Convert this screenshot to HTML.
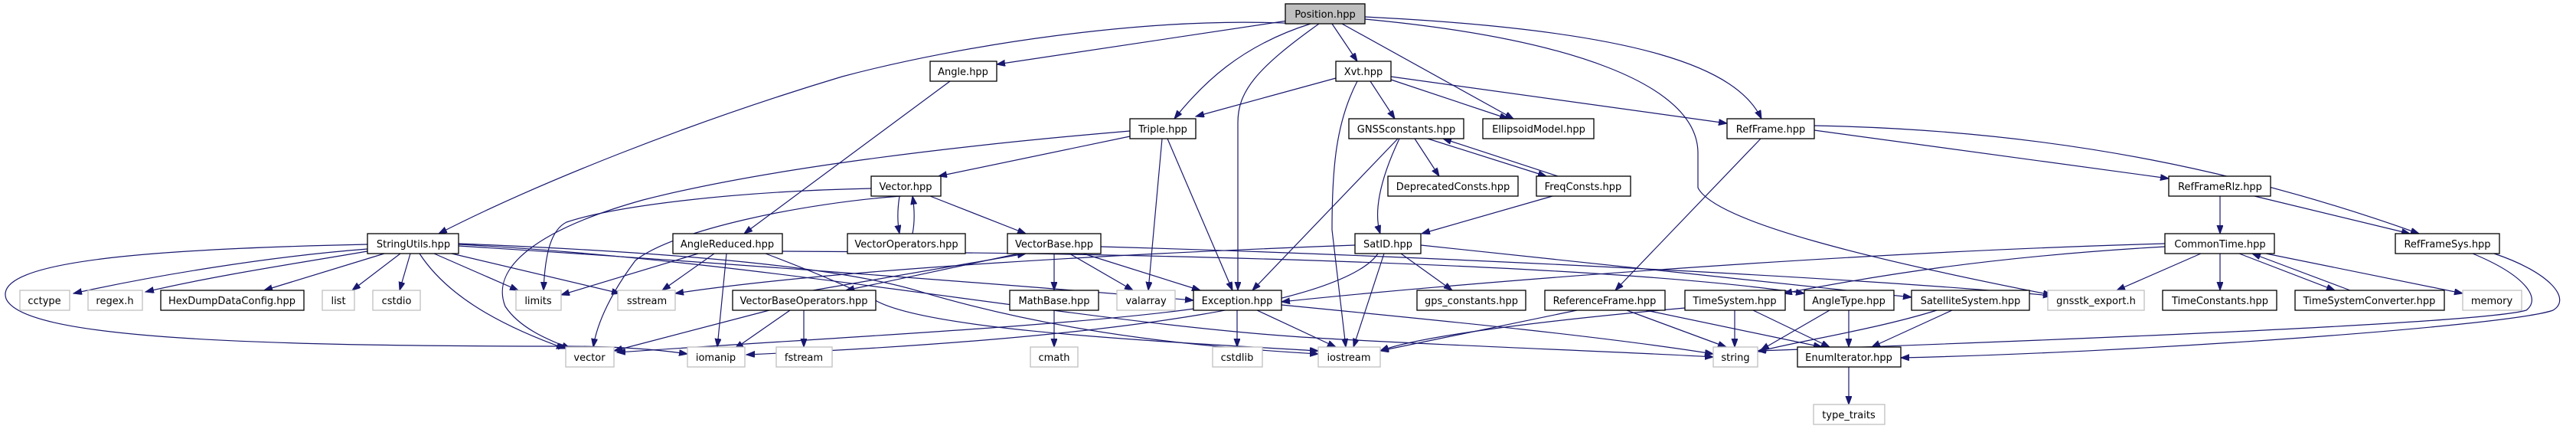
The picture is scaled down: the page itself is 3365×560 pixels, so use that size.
<!DOCTYPE html>
<html><head><meta charset="utf-8"><style>
html,body{margin:0;padding:0;background:#fff;}
svg{display:block;}
text{font-family:"DejaVu Sans","Liberation Sans",sans-serif;font-size:13px;fill:#000;text-anchor:middle;}
.e{fill:none;stroke:#191970;stroke-width:1.2;marker-end:url(#a);}
.b{fill:#fff;stroke:#000;stroke-width:1.3;}
.g{fill:#fff;stroke:#bfbfbf;stroke-width:1.3;}
.p{fill:#bfbfbf;stroke:#000;stroke-width:1.3;}
</style></head><body>
<svg width="3365" height="560" viewBox="0 0 3365 560" xmlns="http://www.w3.org/2000/svg">
<defs><marker id="a" markerUnits="userSpaceOnUse" markerWidth="12" markerHeight="9" refX="11" refY="4" orient="auto"><path d="M0,0 L11,4 L0,8 z" fill="#191970" stroke="#191970"/></marker></defs>
<g>
<path class="e" d="M1696,31 C1500,20 1250,60 1100,100 C900,160 700,240 573,305"/>
<path class="e" d="M1682,27 L1302,84"/>
<path class="e" d="M1712,31 C1620,60 1570,110 1534,155"/>
<path class="e" d="M1723,31 C1640,90 1617,120 1617,160 L1617,379"/>
<path class="e" d="M1740,31 L1773,80"/>
<path class="e" d="M1753,31 L1977,155"/>
<path class="e" d="M1783,22 C2150,40 2270,90 2301,155"/>
<path class="e" d="M1783,25 C2050,50 2218,110 2218,200 L2218,245 C2240,290 2450,340 2680,385"/>
<path class="e" d="M1745,102 L1562,152"/>
<path class="e" d="M1790,106 L1822,155"/>
<path class="e" d="M1817,104 L1970,155"/>
<path class="e" d="M1817,100 L2256,161"/>
<path class="e" d="M1773,106 C1745,160 1740,220 1740,300 L1758,453"/>
<path class="e" d="M1241,106 L972,305"/>
<path class="e" d="M1476,178 L1226,230"/>
<path class="e" d="M1518,181 L1500,379"/>
<path class="e" d="M1525,181 L1610,379"/>
<path class="e" d="M1476,171 C1250,190 1000,220 840,261 C700,300 640,350 660,400 C680,430 720,445 745,455"/>
<path class="e" d="M1175,256 C1172,275 1172,290 1175,305"/>
<path class="e" d="M1192,305 C1195,290 1195,275 1192,256"/>
<path class="e" d="M1215,256 L1340,305"/>
<path class="e" d="M1138,246 C950,250 800,270 740,290 C720,300 712,330 710,379"/>
<path class="e" d="M1177,256 C1050,265 880,300 830,340 C800,380 780,420 775,453"/>
<path class="e" d="M1377,331 L1377,379"/>
<path class="e" d="M1397,331 L1480,379"/>
<path class="e" d="M1415,331 L1568,379"/>
<path class="e" d="M1331,331 L1105,379"/>
<path class="e" d="M1062,379 L1340,331"/>
<path class="e" d="M1438,322 C1800,332 2400,360 2680,386"/>
<path class="e" d="M1005,405 L802,458"/>
<path class="e" d="M1032,405 L960,455"/>
<path class="e" d="M1050,405 L1050,453"/>
<path class="e" d="M1377,405 L1377,453"/>
<path class="e" d="M1616,405 L1616,453"/>
<path class="e" d="M1642,405 L1745,453"/>
<path class="e" d="M1674,398 C1900,420 2100,440 2238,462"/>
<path class="e" d="M1560,403 C1400,425 1100,440 806,460"/>
<path class="e" d="M1848,181 L1880,230"/>
<path class="e" d="M1865,181 L2020,230"/>
<path class="e" d="M2035,230 L1885,181"/>
<path class="e" d="M1828,181 C1800,240 1795,280 1803,305"/>
<path class="e" d="M1826,181 L1636,379"/>
<path class="e" d="M2028,256 L1857,305"/>
<path class="e" d="M1830,331 L1897,379"/>
<path class="e" d="M1808,331 L1768,453"/>
<path class="e" d="M1800,331 C1760,390 1500,440 975,463"/>
<path class="e" d="M1770,320 C1500,330 1100,350 882,383"/>
<path class="e" d="M1856,320 L2497,388"/>
<path class="e" d="M2300,181 L2110,379"/>
<path class="e" d="M2370,170 L2833,233"/>
<path class="e" d="M2370,164 C2700,170 2950,230 3160,305"/>
<path class="e" d="M2900,256 L2900,305"/>
<path class="e" d="M2945,256 L3148,305"/>
<path class="e" d="M3230,331 C3300,360 3320,390 3300,405 C3250,420 2800,440 2296,458"/>
<path class="e" d="M3258,331 C3330,355 3360,390 3335,405 C3280,425 2800,460 2483,467"/>
<path class="e" d="M2828,318 C2400,330 1900,370 1674,394"/>
<path class="e" d="M2828,322 C2600,335 2450,360 2330,383"/>
<path class="e" d="M2875,331 L2765,379"/>
<path class="e" d="M2900,331 L2900,379"/>
<path class="e" d="M2925,331 L3050,379"/>
<path class="e" d="M3070,379 L2942,331"/>
<path class="e" d="M2960,331 L3217,383"/>
<path class="e" d="M1022,328 C1500,330 2100,345 2357,383"/>
<path class="e" d="M912,331 L733,385"/>
<path class="e" d="M933,331 L865,379"/>
<path class="e" d="M949,331 L937,453"/>
<path class="e" d="M1000,331 C1050,350 1100,370 1140,390 C1200,430 1500,445 1722,458"/>
<path class="e" d="M2266,405 L2266,453"/>
<path class="e" d="M2290,405 L2390,453"/>
<path class="e" d="M2201,402 C2000,420 1850,440 1803,458"/>
<path class="e" d="M2390,405 L2300,457"/>
<path class="e" d="M2415,405 L2415,453"/>
<path class="e" d="M2530,405 C2450,430 2350,445 2296,459"/>
<path class="e" d="M2550,405 L2445,453"/>
<path class="e" d="M2060,405 L1803,458"/>
<path class="e" d="M2125,405 L2255,453"/>
<path class="e" d="M2150,405 L2380,453"/>
<path class="e" d="M2415,479 L2415,528"/>
<path class="e" d="M480,325 C350,335 200,360 96,383"/>
<path class="e" d="M480,328 C380,345 280,360 190,381"/>
<path class="e" d="M502,331 L345,379"/>
<path class="e" d="M523,331 L460,379"/>
<path class="e" d="M536,331 L522,379"/>
<path class="e" d="M567,331 L677,379"/>
<path class="e" d="M590,331 L810,383"/>
<path class="e" d="M548,331 C580,380 640,420 738,455"/>
<path class="e" d="M480,319 C200,325 -10,340 8,390 C30,440 300,452 740,452"/>
<path class="e" d="M740,452 C800,452 850,455 898,462"/>
<path class="e" d="M599,321 C900,340 1300,370 1559,392"/>
<path class="e" d="M599,318 C900,330 1100,350 1200,380 C1400,440 1600,455 1722,462"/>
<path class="e" d="M599,319 C1000,340 1400,420 1700,440 C1900,452 2100,458 2238,466"/>
</g>
<g>
<rect class="p" x="1679" y="5" width="104" height="26"/><text x="1731" y="23">Position.hpp</text>
<rect class="b" x="1215" y="80" width="87" height="26"/><text x="1258" y="98">Angle.hpp</text>
<rect class="b" x="1745" y="80" width="72" height="26"/><text x="1781" y="98">Xvt.hpp</text>
<rect class="b" x="1476" y="155" width="86" height="26"/><text x="1519" y="173">Triple.hpp</text>
<rect class="b" x="1762" y="155" width="150" height="26"/><text x="1837" y="173">GNSSconstants.hpp</text>
<rect class="b" x="1937" y="155" width="145" height="26"/><text x="2010" y="173">EllipsoidModel.hpp</text>
<rect class="b" x="2256" y="155" width="114" height="26"/><text x="2313" y="173">RefFrame.hpp</text>
<rect class="b" x="1138" y="230" width="91" height="26"/><text x="1183" y="248">Vector.hpp</text>
<rect class="b" x="1813" y="230" width="170" height="26"/><text x="1898" y="248">DeprecatedConsts.hpp</text>
<rect class="b" x="2007" y="230" width="123" height="26"/><text x="2068" y="248">FreqConsts.hpp</text>
<rect class="b" x="2833" y="230" width="133" height="26"/><text x="2900" y="248">RefFrameRlz.hpp</text>
<rect class="b" x="480" y="305" width="119" height="26"/><text x="540" y="323">StringUtils.hpp</text>
<rect class="b" x="879" y="305" width="143" height="26"/><text x="950" y="323">AngleReduced.hpp</text>
<rect class="b" x="1107" y="305" width="154" height="26"/><text x="1184" y="323">VectorOperators.hpp</text>
<rect class="b" x="1316" y="305" width="122" height="26"/><text x="1377" y="323">VectorBase.hpp</text>
<rect class="b" x="1770" y="305" width="86" height="26"/><text x="1813" y="323">SatID.hpp</text>
<rect class="b" x="2828" y="305" width="143" height="26"/><text x="2900" y="323">CommonTime.hpp</text>
<rect class="b" x="3129" y="305" width="136" height="26"/><text x="3197" y="323">RefFrameSys.hpp</text>
<rect class="g" x="26" y="379" width="65" height="26"/><text x="58" y="397">cctype</text>
<rect class="g" x="115" y="379" width="71" height="26"/><text x="150" y="397">regex.h</text>
<rect class="b" x="210" y="379" width="187" height="26"/><text x="303" y="397">HexDumpDataConfig.hpp</text>
<rect class="g" x="421" y="379" width="42" height="26"/><text x="442" y="397">list</text>
<rect class="g" x="487" y="379" width="62" height="26"/><text x="518" y="397">cstdio</text>
<rect class="g" x="674" y="379" width="59" height="26"/><text x="703" y="397">limits</text>
<rect class="g" x="807" y="379" width="75" height="26"/><text x="845" y="397">sstream</text>
<rect class="b" x="957" y="379" width="187" height="26"/><text x="1050" y="397">VectorBaseOperators.hpp</text>
<rect class="b" x="1319" y="379" width="116" height="26"/><text x="1377" y="397">MathBase.hpp</text>
<rect class="g" x="1459" y="379" width="76" height="26"/><text x="1497" y="397">valarray</text>
<rect class="b" x="1559" y="379" width="115" height="26"/><text x="1616" y="397">Exception.hpp</text>
<rect class="b" x="1851" y="379" width="142" height="26"/><text x="1922" y="397">gps_constants.hpp</text>
<rect class="b" x="2018" y="379" width="157" height="26"/><text x="2096" y="397">ReferenceFrame.hpp</text>
<rect class="b" x="2201" y="379" width="131" height="26"/><text x="2266" y="397">TimeSystem.hpp</text>
<rect class="b" x="2357" y="379" width="117" height="26"/><text x="2415" y="397">AngleType.hpp</text>
<rect class="b" x="2497" y="379" width="154" height="26"/><text x="2574" y="397">SatelliteSystem.hpp</text>
<rect class="g" x="2675" y="379" width="126" height="26"/><text x="2738" y="397">gnsstk_export.h</text>
<rect class="b" x="2825" y="379" width="149" height="26"/><text x="2900" y="397">TimeConstants.hpp</text>
<rect class="b" x="2998" y="379" width="195" height="26"/><text x="3095" y="397">TimeSystemConverter.hpp</text>
<rect class="g" x="3217" y="379" width="77" height="26"/><text x="3255" y="397">memory</text>
<rect class="g" x="739" y="453" width="63" height="26"/><text x="770" y="471">vector</text>
<rect class="g" x="898" y="453" width="75" height="26"/><text x="935" y="471">iomanip</text>
<rect class="g" x="1014" y="453" width="73" height="26"/><text x="1050" y="471">fstream</text>
<rect class="g" x="1346" y="453" width="62" height="26"/><text x="1377" y="471">cmath</text>
<rect class="g" x="1584" y="453" width="65" height="26"/><text x="1616" y="471">cstdlib</text>
<rect class="g" x="1722" y="453" width="81" height="26"/><text x="1762" y="471">iostream</text>
<rect class="g" x="2238" y="453" width="58" height="26"/><text x="2267" y="471">string</text>
<rect class="b" x="2348" y="453" width="135" height="26"/><text x="2415" y="471">EnumIterator.hpp</text>
<rect class="g" x="2369" y="528" width="93" height="26"/><text x="2415" y="546">type_traits</text>
</g>
</svg>
</body></html>
